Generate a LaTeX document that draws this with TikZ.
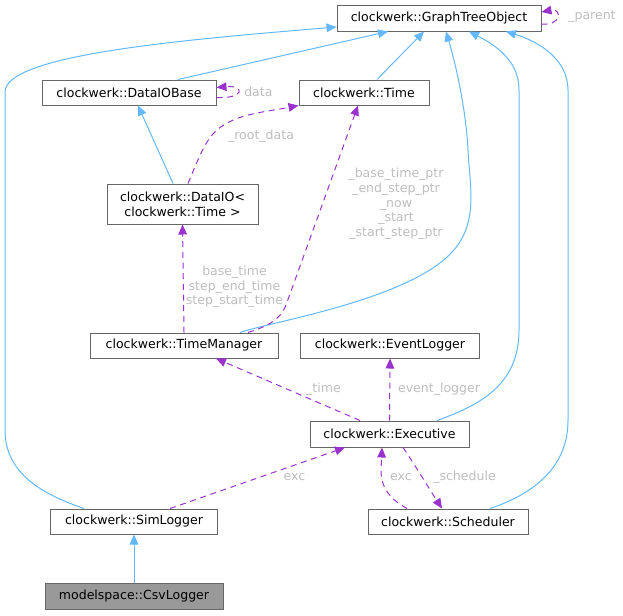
\documentclass[tikz,border=0pt]{standalone}
\usepackage{fontspec}
\setmainfont{DejaVu Sans}
\usepackage{tikz}
\usetikzlibrary{arrows.meta}
\usetikzlibrary{calc}
\definecolor{inhblue}{HTML}{63B8FF}
\definecolor{usepurple}{HTML}{9A32CD}
\definecolor{lblgray}{HTML}{BEBEBE}
\definecolor{boxgray}{HTML}{666666}
\definecolor{curfill}{HTML}{999999}
\tikzset{box/.style = {draw=boxgray, line width=0.75pt, fill=white, rectangle, inner sep = 0, minimum height = 18.75pt, align=center, font=\fontsize{9.4}{11}\selectfont}}
\tikzset{inherit/.style = {draw=inhblue, line width=0.75pt, -{Triangle[length=7.5pt,width=6.5pt]}}}
\tikzset{usage/.style = {draw=usepurple, line width=0.75pt, dash pattern=on 4.5pt off 3.5pt, -{Triangle[length=7.5pt,width=6.5pt]}}}
\tikzset{lbl/.style = {text=lblgray, inner sep = 0, align=center, font=\fontsize{9.4}{11}\selectfont}}

\begin{document}
\begin{tikzpicture}[x=0.75pt, y=-0.75pt]
        \useasboundingbox (0,0) rectangle (623,615);
        \node [box, minimum width=153pt, minimum height=19.5pt] (gto) at (439,18) {clockwerk::GraphTreeObject};
        \node [box, minimum width=130.5pt] (dataiobase) at (129,92.5) {clockwerk::DataIOBase};
        \node [box, minimum width=97.5pt] (time) at (364,92.5) {clockwerk::Time};
        \node [box, minimum width=113.25pt, minimum height=30pt] (dataio) at (182.5,204) {clockwerk::DataIO<\\clockwerk::Time >};
        \node [box, minimum width=141pt] (timemgr) at (184,345.5) {clockwerk::TimeManager};
        \node [box, minimum width=134.25pt] (evlogger) at (390,345.5) {clockwerk::EventLogger};
        \node [box, minimum width=119.25pt, minimum height=19.5pt] (exec) at (389.5,434) {clockwerk::Executive};
        \node [box, minimum width=125.25pt] (simlogger) at (134,521.5) {clockwerk::SimLogger};
        \node [box, minimum width=120pt] (scheduler) at (448,521.5) {clockwerk::Scheduler};
        \node [box, fill=curfill, minimum width=133.5pt, minimum height=19.5pt] (csvlogger) at (134,596) {modelspace::CsvLogger};
        % inheritance
        \draw [inherit] ($(dataiobase.north)+(49,0)$) -- ($(gto.south)+(-51,0)$);
        \draw [inherit] ($(time.north)+(13,0)$) -- ($(gto.south)+(-15,0)$);
        \draw [inherit] ($(dataio.north)+(-9.5,0)$) -- ($(dataiobase.south)+(9,0)$);
        \draw [inherit] ($(timemgr.north)+(56,0)$) .. controls (270,322) and (396,302) .. (446,258) .. controls (480,228) and (470,190) .. (468,150) .. controls (466,110) and (456,65) .. ($(gto.south)+(7,0)$);
        \draw [inherit] ($(exec.north)+(47.5,0)$) .. controls (480,405) and (519,385) .. (519,330) -- (519,90) .. controls (519,60) and (495,45) .. ($(gto.south)+(30,0)$);
        \draw [inherit] ($(scheduler.north)+(42,0)$) .. controls (530,495) and (568,470) .. (568,420) -- (568,90) .. controls (568,60) and (540,42) .. ($(gto.south)+(67,0)$);
        \draw [inherit] ($(simlogger.north)+(-50,0)$) .. controls (45,495) and (5,475) .. (5,430) -- (5,92) .. controls (5,55) and (180,40) .. ($(gto.west)+(0,9)$);
        \draw [inherit] (csvlogger) -- (simlogger);
        % members
        \draw [usage] ($(gto.east)+(0,6)$) .. controls (562,26) and (562,8) .. ($(gto.east)+(0,-6)$);
        \node [lbl, anchor=west] (lparent) at (568,17) {\_parent};
        \draw [usage] ($(dataiobase.east)+(0,5)$) .. controls (245,99) and (245,85) .. ($(dataiobase.east)+(0,-5)$);
        \node [lbl, anchor=west] (ldata) at (244,92) {data};
        \draw [usage] ($(dataio.north)+(5.5,0)$) .. controls (198,160) and (205,140) .. (217,130) .. controls (235,114) and (265,112) .. (time.south west);
        \node [lbl] (lrootdata) at (261,136) {\_root\_data};
        \draw [usage] ($(timemgr.north)+(64,0)$) .. controls (268,326) and (280,320) .. (286,305) -- ($(time.south)+(-6,0)$);
        \node [lbl] (ltimeptr) at (396,204) {\_base\_time\_ptr\\\_end\_step\_ptr\\\_now\\\_start\\\_start\_step\_ptr};
        \draw [usage] (timemgr.north) -- (dataio.south);
        \node [lbl] (lbasetime) at (234.5,287) {base\_time\\step\_end\_time\\step\_start\_time};
        \draw [usage] ($(exec.north)+(-29.5,0)$) -- ($(timemgr.south)+(32,0)$);
        \node [lbl] (ltime) at (323.5,389) {\_time};
        \draw [usage] (exec.north) -- (evlogger.south);
        \node [lbl] (levlogger) at (439,389) {event\_logger};
        \draw [usage] ($(simlogger.north)+(36,0)$) -- ($(exec.south)+(-44.5,0)$);
        \node [lbl] (lexc) at (294.5,477) {exc};
        \draw [usage] ($(scheduler.north)+(-41,0)$) .. controls (392,500) and (381,490) .. (381,470) -- ($(exec.south)+(-7.5,0)$);
        \node [lbl] (lexcb) at (401,477) {exc};
        \draw [usage] ($(exec.south)+(13.5,0)$) .. controls (415,465) and (430,490) .. ($(scheduler.north)+(-6,0)$);
        \node [lbl] (lschedule) at (464.5,477) {\_schedule};
    \end{tikzpicture}
\end{document}
